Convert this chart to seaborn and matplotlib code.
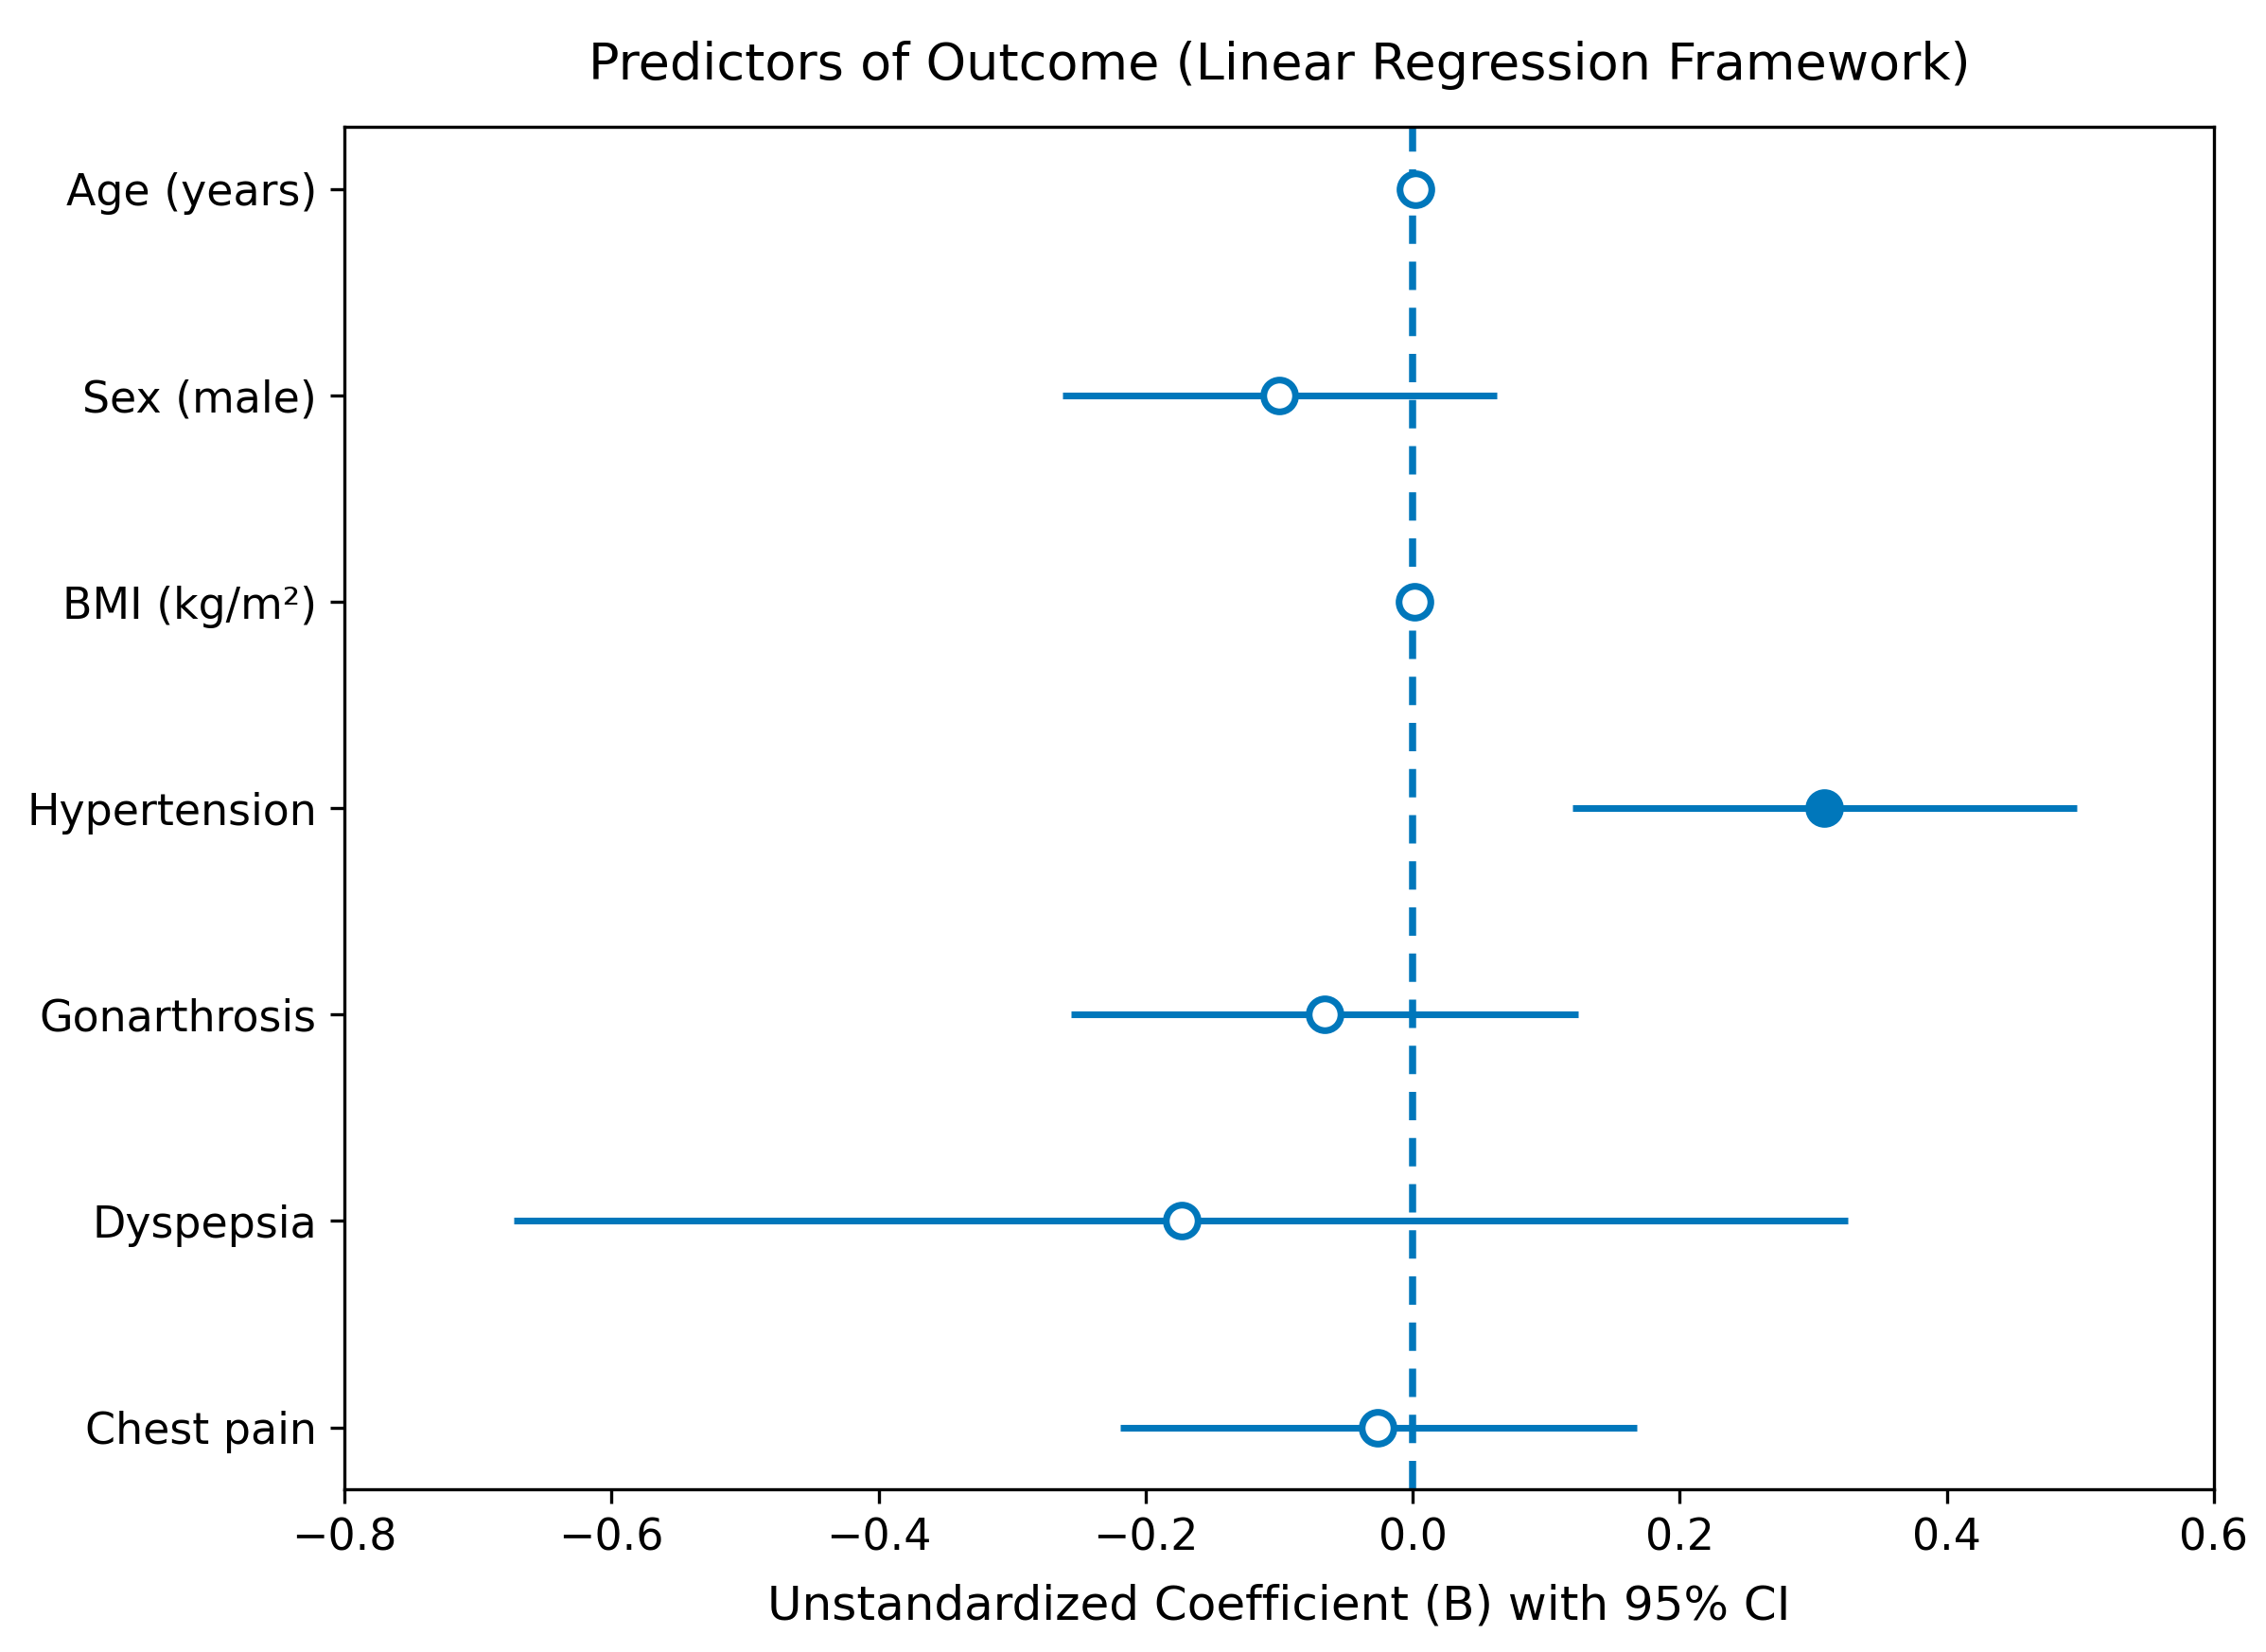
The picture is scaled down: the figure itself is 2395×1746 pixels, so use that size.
import pandas as pd
import seaborn as sns
import matplotlib.pyplot as plt

# Coefficients
predictors = ['Age (years)', 'Sex (male)', 'BMI (kg/m²)', 'Hypertension',
              'Gonarthrosis', 'Dyspepsia', 'Chest pain']
coef = [0.002, -0.100, 0.001, 0.308, -0.066, -0.173, -0.026]
ci_low = [-0.002, -0.262, -0.003, 0.120, -0.256, -0.673, -0.219]
ci_high = [0.006, 0.063, 0.005, 0.497, 0.124, 0.326, 0.168]
significant = [False, False, False, True, False, False, False]

df = pd.DataFrame({'Predictor': predictors, 'B': coef, 'lo': ci_low,
                   'hi': ci_high, 'sig': significant})
df['y'] = range(len(df))

color = '#0077bb'
fig = plt.figure(figsize=(2395 / 300, 1746 / 300), dpi=300)
ax = fig.add_axes([0.152, 0.0985, 0.825, 0.8245])

ax.hlines(df['y'], df['lo'], df['hi'], color=color, lw=1.7, zorder=2)
ax.axvline(0, color=color, ls=(0, (4, 2.5)), lw=1.8, zorder=1)

sns.scatterplot(data=df[~df['sig']], x='B', y='y', ax=ax, s=65,
                facecolor='white', edgecolor=color, linewidth=1.7, zorder=3)
sns.scatterplot(data=df[df['sig']], x='B', y='y', ax=ax, s=65,
                color=color, edgecolor=color, linewidth=1.7, zorder=3)

ax.set_yticks(df['y'])
ax.set_yticklabels(predictors, fontsize=11)
ax.set_ylim(len(df) - 0.7, -0.3)
ax.set_xlim(-0.8, 0.6)
ax.set_xticks([-0.8, -0.6, -0.4, -0.2, 0.0, 0.2, 0.4, 0.6])
ax.tick_params(labelsize=11)
ax.set_xlabel('Unstandardized Coefficient (B) with 95% CI', fontsize=12, labelpad=6)
ax.set_ylabel('')
ax.set_title('Predictors of Outcome (Linear Regression Framework)', fontsize=13, pad=12)

fig.savefig('out.png', dpi=300)
